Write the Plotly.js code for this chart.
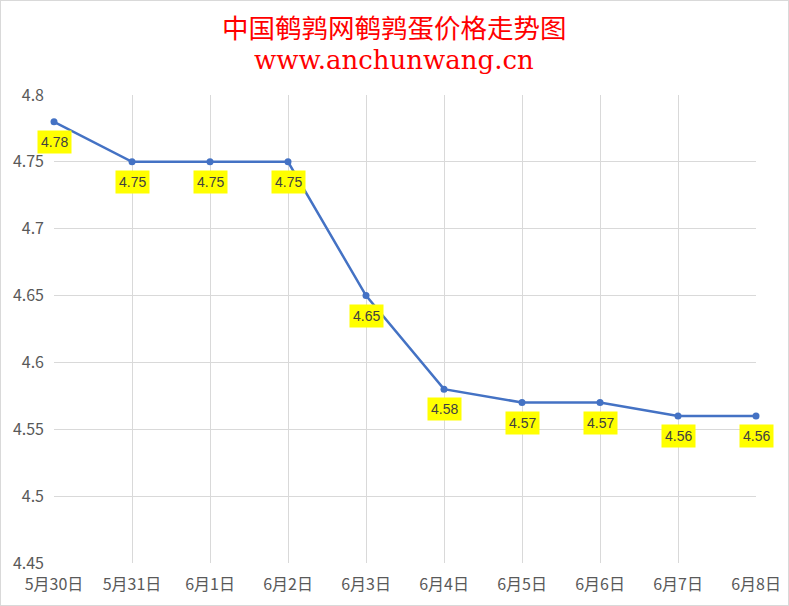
<!DOCTYPE html>
<html><head><meta charset="utf-8">
<script src="https://cdn.plot.ly/plotly-3.0.1.min.js"></script>
<style>
html,body{margin:0;padding:0;background:#fff;}
#wrap{position:relative;width:789px;height:606px;}
#chart{width:789px;height:606px;}
#frame{position:absolute;left:0;top:0;width:787px;height:604px;border:1px solid #d9d9d9;pointer-events:none;}
</style></head>
<body>
<div id="wrap"><div id="chart"></div><div id="frame"></div></div>
<script>
const categories = ["5月30日","5月31日","6月1日","6月2日","6月3日","6月4日","6月5日","6月6日","6月7日","6月8日"];
const prices = [4.78, 4.75, 4.75, 4.75, 4.65, 4.58, 4.57, 4.57, 4.56, 4.56];
const titleLine1 = "中国鹌鹑网鹌鹑蛋价格走势图";
const titleLine2 = "www.anchunwang.cn";

const xs = categories.map((c, i) => i);

const trace = {
  x: xs, y: prices, type: "scatter", mode: "lines+markers",
  line: {color: "#4472C4", width: 2.5},
  marker: {color: "#4472C4", size: 7},
  cliponaxis: false,
  hoverinfo: "skip"
};

const labelAnns = prices.map((v, i) => ({
  x: i, y: v, xref: "x", yref: "y",
  text: v.toFixed(2), showarrow: false, yshift: -20,
  bgcolor: "#FFFF00", borderpad: 3,
  font: {family: "Liberation Sans, Arial, sans-serif", size: 14, color: "#404040"}
}));

const titleAnns = [
  {text: titleLine1, xref: "paper", yref: "paper", x: 0.485, y: 1, yanchor: "middle", yshift: 69, showarrow: false,
   font: {family: "Noto Sans CJK SC, serif", size: 26.5, color: "#FF0000"}},
  {text: titleLine2, xref: "paper", yref: "paper", x: 0.485, y: 1, yanchor: "middle", yshift: 35, showarrow: false,
   font: {family: "DejaVu Serif, serif", size: 26, color: "#FF0000"}}
];

const layout = {
  width: 789, height: 606,
  margin: {l: 54, r: 33, t: 95, b: 43},
  paper_bgcolor: "#fff", plot_bgcolor: "#fff",
  showlegend: false,
  font: {family: "Noto Sans CJK SC, sans-serif", color: "#595959", size: 16},
  xaxis: {
    range: [0, categories.length - 1], tickvals: xs, ticktext: categories,
    showgrid: true, gridcolor: "#d9d9d9", gridwidth: 1, zeroline: false,
    showline: false, ticks: "", fixedrange: true, ticklabelstandoff: 10,
    tickfont: {family: "Noto Sans CJK SC, sans-serif", size: 16, color: "#595959"}
  },
  yaxis: {
    range: [4.45, 4.8], tick0: 4.45, dtick: 0.05,
    showgrid: true, gridcolor: "#d9d9d9", gridwidth: 1, zeroline: false,
    showline: false, ticks: "", ticklabelstandoff: 9,
    tickfont: {family: "Noto Sans CJK SC, sans-serif", size: 16, color: "#595959"}
  },
  annotations: titleAnns.concat(labelAnns)
};

Plotly.newPlot("chart", [trace], layout, {displayModeBar: false, staticPlot: true});
</script>
</body></html>
